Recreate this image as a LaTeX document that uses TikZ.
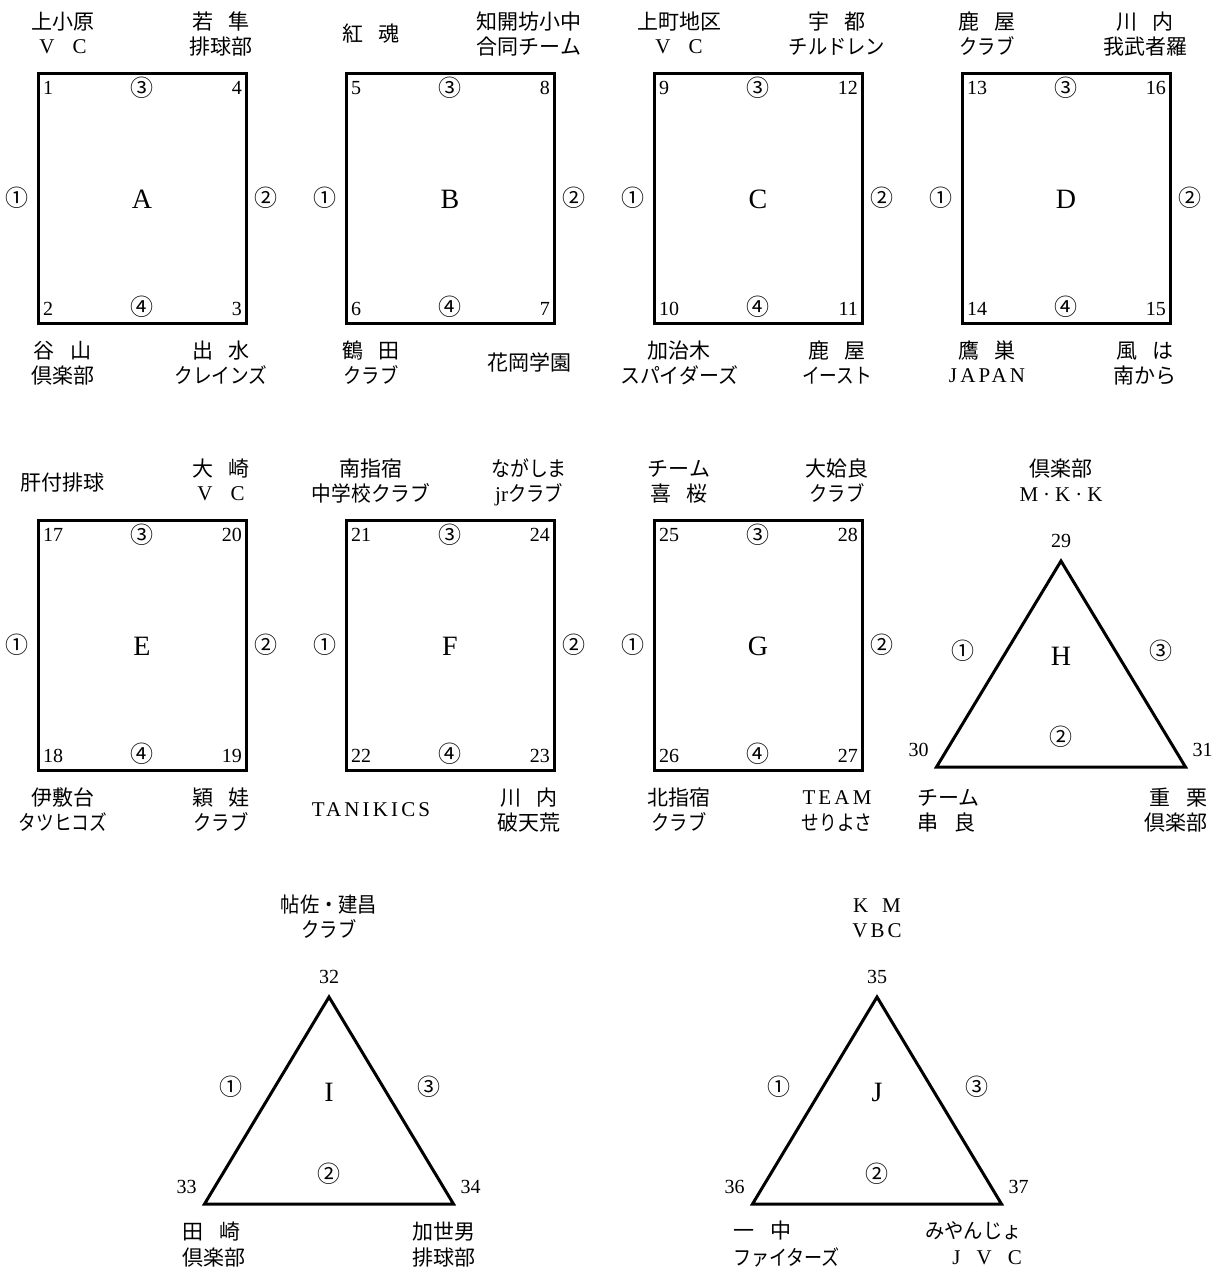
\documentclass[tikz,border=0pt]{standalone}
\usepackage{fontspec}
\setmainfont{Liberation Serif}
\newfontfamily\jp{Noto Sans CJK JP}
\newfontfamily\wideser{Liberation Serif}[LetterSpace=15]
\newcommand\lt[1]{{\rmfamily\fontsize{21}{21}\selectfont #1}}
\newcommand\wt[1]{{\wideser\fontsize{21}{21}\selectfont #1}}
\newcommand\gp{\hspace{16pt}}
\newcommand\nw[2]{\scalebox{#1}[1]{#2}}
\tikzset{
  court/.style={draw, line width=3pt, inner sep=0pt, outer sep=0pt, minimum width=208pt, minimum height=250pt},
  tri/.style={draw, line width=3pt, line join=miter},
  num/.style={font=\fontsize{20}{20}\selectfont, inner sep=0pt},
  circ/.style={font=\jp\fontsize{23}{23}\selectfont, inner sep=0pt},
  letter/.style={font=\fontsize{28}{28}\selectfont, inner sep=0pt},
  lbl/.style={font=\jp\fontsize{21}{25}\selectfont, inner sep=0pt},
}
% court: name, left, top, letter, n(top-left), n(top-right), n(bottom-left), n(bottom-right)
\newcommand\court[8]{%
  \node[court, anchor=north west] (#1) at (#2,#3) {};
  \node[letter, yshift=-1pt] (#1-x) at (#1.center) {#4};
  \node[num, anchor=west, xshift=5pt, yshift=-15pt] (#1-n1) at (#1.north west) {#5};
  \node[num, anchor=east, xshift=-4pt, yshift=-15pt] (#1-n2) at (#1.north east) {#6};
  \node[num, anchor=west, xshift=5pt, yshift=14pt] (#1-n3) at (#1.south west) {#7};
  \node[num, anchor=east, xshift=-4pt, yshift=14pt] (#1-n4) at (#1.south east) {#8};
  \node[circ, yshift=-15pt] (#1-c3) at (#1.north) {③};
  \node[circ, yshift=16pt] (#1-c4) at (#1.south) {④};
  \node[circ, xshift=-21pt] (#1-c1) at (#1.west) {①};
  \node[circ, xshift=20pt] (#1-c2) at (#1.east) {②};
}
% triangle: name, apex x, apex y, base y, half width, letter, n top, n left, n right
\newcommand\tri[9]{%
  \coordinate (#1-t) at (#2,#3);
  \coordinate (#1-l) at (#2-#5,#4);
  \coordinate (#1-r) at (#2+#5,#4);
  \draw[tri] (#1-t) -- (#1-l) -- (#1-r) -- cycle;
  \node[num] (#1-nt) at (#2,#3-20) {#7};
  \node[num] (#1-nl) at (#2-#5-18,#4-17) {#8};
  \node[num] (#1-nr) at (#2+#5+17,#4-17) {#9};
  \node[letter] (#1-x) at (#2,#3+95) {#6};
  \node[circ] (#1-c1) at (#2-98,#3+90) {①};
  \node[circ] (#1-c3) at (#2+100,#3+90) {③};
  \node[circ] (#1-c2) at (#2,#4-30) {②};
}
\newcommand\lb[5]{\node[lbl, anchor=#2] (#1) at (#3,#4) {#5};}
\begin{document}
\begin{tikzpicture}[x=1pt,y=-1pt]
\useasboundingbox (0,0) rectangle (1213,1267);
% ---- row 1
\court{A}{38}{73}{A}{1}{4}{2}{3}
\court{B}{346}{73}{B}{5}{8}{6}{7}
\court{C}{654}{73}{C}{9}{12}{10}{11}
\court{D}{962}{73}{D}{13}{16}{14}{15}
% A labels
\lb{a1}{base}{63}{29}{上小原}
\lb{a1b}{base}{63}{53}{\lt{V\hspace{18pt}C}}
\lb{a4}{base}{221}{29}{若\gp{}隼}
\lb{a4b}{base}{221}{54}{排球部}
\lb{a2}{base}{63}{358}{谷\gp{}山}
\lb{a2b}{base}{63}{383}{倶楽部}
\lb{a3}{base}{221}{358}{出\gp{}水}
\lb{a3b}{base}{221}{383}{\nw{0.89}{クレインズ}}
% B labels
\lb{b5}{base}{371}{41.5}{紅\gp{}魂}
\lb{b8}{base}{529}{29}{知開坊小中}
\lb{b8b}{base}{529}{54}{合同チーム}
\lb{b6}{base}{371}{358}{鶴\gp{}田}
\lb{b6b}{base}{371}{383}{\nw{0.87}{クラブ}}
\lb{b7}{base}{529}{370}{花岡学園}
% C labels
\lb{c9}{base}{679}{29}{上町地区}
\lb{c9b}{base}{679}{53}{\lt{V\hspace{18pt}C}}
\lb{c12}{base}{837}{29}{宇\gp{}都}
\lb{c12b}{base}{837}{54}{\nw{0.92}{チルドレン}}
\lb{c10}{base}{679}{358}{加治木}
\lb{c10b}{base}{679}{383}{\nw{0.95}{スパイダーズ}}
\lb{c11}{base}{837}{358}{鹿\gp{}屋}
\lb{c11b}{base}{837}{383}{\nw{0.84}{イースト}}
% D labels
\lb{d13}{base}{987}{29}{鹿\gp{}屋}
\lb{d13b}{base}{987}{382}{\wt{JAPAN}}
\lb{d13c}{base}{987}{54}{\nw{0.87}{クラブ}}
\lb{d16}{base}{1145}{29}{川\gp{}内}
\lb{d16b}{base}{1145}{54}{我武者羅}
\lb{d14}{base}{987}{358}{鷹\gp{}巣}
\lb{d15}{base}{1145}{358}{風\gp{}は}
\lb{d15b}{base}{1145}{383}{南から}
% ---- row 2
\court{E}{38}{520}{E}{17}{20}{18}{19}
\court{F}{346}{520}{F}{21}{24}{22}{23}
\court{G}{654}{520}{G}{25}{28}{26}{27}
% E labels
\lb{e17}{base}{62}{490}{肝付排球}
\lb{e20}{base}{221}{476}{大\gp{}崎}
\lb{e20b}{base}{221}{500}{\lt{V\hspace{18pt}C}}
\lb{e18}{base}{63}{805}{伊敷台}
\lb{e18b}{base}{63}{830}{\nw{0.84}{タツヒコズ}}
\lb{e19}{base}{221}{805}{穎\gp{}娃}
\lb{e19b}{base}{221}{830}{\nw{0.87}{クラブ}}
% F labels
\lb{f21}{base}{371}{476}{南指宿}
\lb{f21b}{base}{371}{501}{\nw{0.94}{中学校クラブ}}
\lb{f24}{base}{529}{476}{\nw{0.9}{ながしま}}
\lb{f24b}{base}{529}{501}{\lt{jr}\nw{0.87}{クラブ}}
\lb{f22}{base}{371}{816}{\wt{TANIKICS}}
\lb{f23}{base}{529}{805}{川\gp{}内}
\lb{f23b}{base}{529}{830}{破天荒}
% G labels
\lb{g25}{base}{679}{476}{チーム}
\lb{g25b}{base}{679}{501}{喜\gp{}桜}
\lb{g28}{base}{837}{476}{大姶良}
\lb{g28b}{base}{837}{501}{\nw{0.87}{クラブ}}
\lb{g26}{base}{679}{805}{北指宿}
\lb{g26b}{base}{679}{830}{\nw{0.87}{クラブ}}
\lb{g27}{base}{837}{804}{\wt{TEAM}}
\lb{g27b}{base}{837}{830}{\nw{0.84}{せりよさ}}
% ---- H
\tri{H}{1061}{561}{767}{124.5}{H}{29}{30}{31}
\lb{h29}{base}{1061}{476}{倶楽部}
\lb{h29b}{base}{1061}{501}{\lt{M\hspace{5pt}·\hspace{5pt}K\hspace{5pt}·\hspace{5pt}K}}
\lb{h30}{base west}{917}{805}{チーム}
\lb{h30b}{base west}{917}{830}{串\gp{}良}
\lb{h31}{base east}{1208}{805}{重\gp{}栗}
\lb{h31b}{base east}{1208}{830}{倶楽部}
% ---- I
\tri{I}{329}{997}{1204}{124.5}{I}{32}{33}{34}
\lb{i32}{base}{329}{912}{\nw{0.92}{帖佐・建昌}}
\lb{i32b}{base}{329}{937}{\nw{0.87}{クラブ}}
\lb{i33}{base west}{182}{1239}{田\gp{}崎}
\lb{i33b}{base west}{182}{1265}{倶楽部}
\lb{i34}{base east}{476}{1239}{加世男}
\lb{i34b}{base east}{476}{1265}{排球部}
% ---- J
\tri{J}{877}{997}{1204}{124.5}{J}{35}{36}{37}
\lb{j35}{base}{877}{912}{\lt{K\hspace{14pt}M}}
\lb{j35b}{base}{877}{937}{\wt{VBC}}
\lb{j36}{base west}{733}{1238}{一\gp{}中}
\lb{j36b}{base west}{733}{1265}{\nw{0.86}{ファイターズ}}
\lb{j37}{base east}{1022}{1238}{\nw{0.92}{みやんじょ}}
\lb{j37b}{base east}{1022}{1264}{\lt{J\hspace{16pt}V\hspace{16pt}C}}
\end{tikzpicture}
\end{document}
